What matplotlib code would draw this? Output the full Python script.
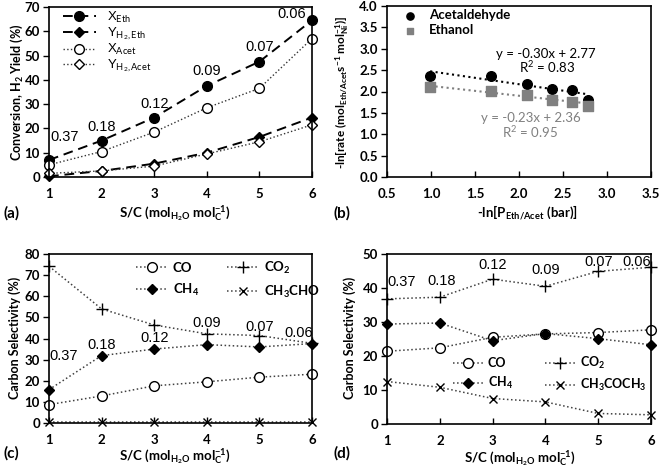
import matplotlib
matplotlib.use("Agg")
import matplotlib.pyplot as plt
import numpy as np

plt.rcParams['font.family'] = ['Lato', 'DejaVu Sans']
plt.rcParams['mathtext.fontset'] = 'custom'
plt.rcParams['mathtext.rm'] = 'Lato'
plt.rcParams['mathtext.bf'] = 'Lato:bold'
plt.rcParams['mathtext.it'] = 'Lato:italic'
plt.rcParams['mathtext.default'] = 'regular'

# ---------------- data ----------------
sc = [1, 2, 3, 4, 5, 6]
x_eth = [7.0, 15.0, 24.5, 37.5, 47.5, 64.5]
y_h2_eth = [0.3, 2.5, 5.5, 10.0, 16.5, 24.5]
x_acet = [5.0, 10.5, 18.5, 28.5, 36.5, 57.0]
y_h2_acet = [1.5, 2.5, 4.5, 9.5, 14.5, 21.5]
ratio_labels = ['0.37', '0.18', '0.12', '0.09', '0.07', '0.06']

lnP = [0.99, 1.68, 2.09, 2.38, 2.60, 2.78]
lnr_acetald = [2.37, 2.37, 2.18, 2.06, 2.03, 1.80]
lnr_ethanol = [2.10, 2.01, 1.91, 1.79, 1.76, 1.67]
fit_acetald = (-0.30, 2.77)
fit_ethanol = (-0.23, 2.36)

c_co = [8.7, 12.8, 17.6, 19.5, 21.7, 23.1]
c_co2 = [74.2, 54.0, 46.4, 42.2, 41.4, 37.7]
c_ch4 = [15.8, 31.9, 35.0, 37.1, 36.0, 37.6]
c_ch3cho = [0.3, 0.3, 0.3, 0.3, 0.3, 0.3]

d_co = [21.4, 22.4, 25.5, 26.5, 26.9, 27.7]
d_co2 = [36.8, 37.3, 42.6, 40.5, 44.9, 46.1]
d_ch4 = [29.4, 29.7, 24.5, 26.6, 25.1, 23.3]
d_ch3coch3 = [12.5, 10.8, 7.5, 6.5, 3.1, 2.7]

# label positions (data coords)
a_lab_pos = [(1.03, 16.5, 'left'), (2.0, 20.5, 'center'), (3.0, 30.0, 'center'),
             (4.0, 43.5, 'center'), (5.0, 53.5, 'center'), (5.62, 67.0, 'center')]
c_lab_pos = [(1.0, 31.9, 'left'), (2.0, 36.9, 'center'), (3.0, 40.0, 'center'),
             (4.0, 47.2, 'center'), (5.0, 45.6, 'center'), (5.75, 42.8, 'center')]
d_lab_pos = [(1.0, 41.7, 'left'), (2.04, 42.2, 'center'), (3.0, 46.7, 'center'),
             (4.0, 45.4, 'center'), (5.0, 47.6, 'center'), (5.73, 47.6, 'center')]

W, H = 661, 471
fig = plt.figure(figsize=(W / 100, H / 100), dpi=100)


def add_ax(l, t, r, b):
    return fig.add_axes([l / W, 1 - b / H, (r - l) / W, (b - t) / H])


def style(ax):
    for s in ax.spines.values():
        s.set_linewidth(1.2)
        s.set_color('black')
    ax.tick_params(axis='y', direction='out', length=4, width=1, labelsize=9.5, pad=2.5)
    ax.tick_params(axis='x', direction='in', length=4, width=1, labelsize=9.5, pad=8)
    for lab in ax.get_xticklabels() + ax.get_yticklabels():
        lab.set_fontweight('bold')


def ordered_legend(ax, **kw):
    h, l = ax.get_legend_handles_labels()
    order = [0, 2, 1, 3]
    return ax.legend([h[i] for i in order], [l[i] for i in order], **kw)


num_font = dict(family='Liberation Sans', fontsize=10.5)
sc_label = r'S/C (mol$_{\mathbf{H_2O}}$ mol$_{\mathbf{C}}^{\mathbf{-1}}$)'
lab_fs = 9

# ---------------- (a) ----------------
ax = add_ax(49, 7, 312, 177)
ax.plot(sc, x_eth, ls=(0, (5, 3)), color='black', lw=1.4, marker='o', ms=7,
        mfc='black', mec='black', label=r'X$_{\mathrm{Eth}}$')
ax.plot(sc, y_h2_eth, ls=(0, (5, 3)), color='black', lw=1.4, marker='D', ms=5.5,
        mfc='black', mec='black', label=r'Y$_{\mathrm{H_2,Eth}}$')
ax.plot(sc, x_acet, ls=':', color='#333333', lw=1.0, marker='o', ms=7,
        mfc='white', mec='black', label=r'X$_{\mathrm{Acet}}$')
ax.plot(sc, y_h2_acet, ls=':', color='#333333', lw=1.0, marker='D', ms=5.5,
        mfc='white', mec='black', label=r'Y$_{\mathrm{H_2,Acet}}$')
ax.set_xlim(1, 6)
ax.set_ylim(0, 70)
ax.set_xticks(sc)
ax.set_yticks(np.arange(0, 71, 10))
for (xp, yp, ha), t in zip(a_lab_pos, ratio_labels):
    ax.text(xp, yp, t, ha=ha, va='center', **num_font)
ax.legend(loc='upper left', bbox_to_anchor=((63 - 49) / 263, 1 - 3 / 170), frameon=False,
          borderpad=0, borderaxespad=0, handlelength=2.5, handletextpad=0.8,
          labelspacing=0.02, prop={'family': 'Liberation Sans', 'size': 9.5})
for l in ax.lines:
    l.set_clip_on(False)
style(ax)
fig.text(17 / W, 1 - 92 / H, r'Conversion, H$_{\mathbf{2}}$ Yield (%)', rotation=90,
         ha='center', va='center', fontsize=lab_fs, fontweight='bold')
fig.text(175 / W, 1 - 213 / H, sc_label, ha='center', va='center', fontsize=9.5, fontweight='bold')
fig.text(4 / W, 1 - 213 / H, '(a)', ha='left', va='center', fontsize=11, fontweight='bold')

# ---------------- (b) ----------------
ax = add_ax(387, 6, 651, 177)
ax.scatter(lnP, lnr_acetald, marker='o', s=48, color='black', zorder=3, label='Acetaldehyde')
ax.scatter(lnP, lnr_ethanol, marker='s', s=42, color='#808080', zorder=3, label='Ethanol')
xf = np.array([lnP[0], lnP[-1]])
ax.plot(xf, fit_acetald[0] * xf + fit_acetald[1], ls=':', color='black', lw=1.5)
ax.plot(xf, fit_ethanol[0] * xf + fit_ethanol[1], ls=':', color='#808080', lw=1.5)
ax.text(2.30, 2.87, 'y = -0.30x + 2.77', ha='center', va='center', fontsize=9.5, color='black')
ax.text(2.32, 2.57, r'R$^2$ = 0.83', ha='center', va='center', fontsize=9.5, color='black')
ax.text(2.14, 1.38, 'y = -0.23x + 2.36', ha='center', va='center', fontsize=9.5, color='#808080')
ax.text(2.13, 1.05, r'R$^2$ = 0.95', ha='center', va='center', fontsize=9.5, color='#808080')
ax.set_xlim(0.5, 3.5)
ax.set_ylim(0, 4.0)
ax.set_xticks(np.arange(0.5, 3.51, 0.5))
ax.set_yticks(np.arange(0, 4.01, 0.5))
ax.xaxis.set_major_formatter(matplotlib.ticker.FormatStrFormatter('%.1f'))
ax.yaxis.set_major_formatter(matplotlib.ticker.FormatStrFormatter('%.1f'))
ax.legend(loc='upper left', bbox_to_anchor=((404 - 387) / 264, 1 - 3 / 171), frameon=False,
          borderpad=0, borderaxespad=0, handlelength=0.9, handletextpad=1.0,
          labelspacing=0.25, scatterpoints=1, markerscale=0.75,
          prop={'weight': 'bold', 'size': 9.5})
style(ax)
fig.text(343 / W, 1 - 92 / H,
         r'-ln[rate (mol$_{\mathbf{Eth/Acet}}$s$^{\mathbf{-1}}$ mol$_{\mathbf{Ni}}^{\mathbf{-1}}$)]',
         rotation=90, ha='center', va='center', fontsize=8.5, fontweight='bold')
fig.text(527 / W, 1 - 213 / H, r'-ln[P$_{\mathbf{Eth/Acet}}$ (bar)]', ha='center', va='center',
         fontsize=9.5, fontweight='bold')
fig.text(333 / W, 1 - 213 / H, '(b)', ha='left', va='center', fontsize=11, fontweight='bold')

# ---------------- (c) ----------------
sel_style = dict(ls=':', color='#404040', lw=1.1)
ax = add_ax(49, 254, 312, 423)
ax.plot(sc, c_co, marker='o', ms=7, mfc='white', mec='black', label='CO', **sel_style)
ax.plot(sc, c_co2, marker='+', ms=8, mec='black', mew=1.0, label=r'CO$_2$', **sel_style)
ax.plot(sc, c_ch4, marker='D', ms=5.5, mfc='black', mec='black', label=r'CH$_4$', **sel_style)
ax.plot(sc, c_ch3cho, marker='x', ms=6, mec='black', mew=1.0, label=r'CH$_3$CHO', **sel_style)
for l in ax.lines:
    l.set_clip_on(False)
ax.set_xlim(1, 6)
ax.set_ylim(0, 80)
ax.set_xticks(sc)
ax.set_yticks(np.arange(0, 81, 10))
for (xp, yp, ha), t in zip(c_lab_pos, ratio_labels):
    ax.text(xp, yp, t, ha=ha, va='center', **num_font)
ordered_legend(ax, loc='upper left', bbox_to_anchor=((136 - 49) / 263, 1 - 6 / 169),
               frameon=False, borderpad=0, borderaxespad=0, ncol=2, handlelength=2.4,
               handletextpad=0.4, columnspacing=2.1, labelspacing=0.6,
               prop={'weight': 'bold', 'size': 9.5})
style(ax)
fig.text(15 / W, 1 - 338 / H, 'Carbon Selectivity (%)', rotation=90,
         ha='center', va='center', fontsize=lab_fs, fontweight='bold')
fig.text(175 / W, 1 - 456 / H, sc_label, ha='center', va='center', fontsize=9.5, fontweight='bold')
fig.text(4 / W, 1 - 453 / H, '(c)', ha='left', va='center', fontsize=11, fontweight='bold')

# ---------------- (d) ----------------
ax = add_ax(387, 254, 651, 424)
ax.plot(sc, d_co, marker='o', ms=7, mfc='white', mec='black', label='CO', **sel_style)
ax.plot(sc, d_co2, marker='+', ms=8, mec='black', mew=1.0, label=r'CO$_2$', **sel_style)
ax.plot(sc, d_ch4, marker='D', ms=5.5, mfc='black', mec='black', label=r'CH$_4$', **sel_style)
ax.plot(sc, d_ch3coch3, marker='x', ms=6, mec='black', mew=1.0, label=r'CH$_3$COCH$_3$', **sel_style)
for l in ax.lines:
    l.set_clip_on(False)
ax.set_xlim(1, 6)
ax.set_ylim(0, 50)
ax.set_xticks(sc)
ax.set_yticks(np.arange(0, 51, 10))
for (xp, yp, ha), t in zip(d_lab_pos, ratio_labels):
    ax.text(xp, yp, t, ha=ha, va='center', **num_font)
ordered_legend(ax, loc='upper left', bbox_to_anchor=((453 - 387) / 264, 1 - (355 - 254) / 170),
               frameon=False, borderpad=0, borderaxespad=0, ncol=2, handlelength=2.4,
               handletextpad=0.4, columnspacing=2.6, labelspacing=0.5,
               prop={'weight': 'bold', 'size': 9})
style(ax)
fig.text(350 / W, 1 - 338 / H, 'Carbon Selectivity (%)', rotation=90,
         ha='center', va='center', fontsize=lab_fs, fontweight='bold')
fig.text(520 / W, 1 - 458 / H, sc_label, ha='center', va='center', fontsize=9.5, fontweight='bold')
fig.text(333 / W, 1 - 453 / H, '(d)', ha='left', va='center', fontsize=11, fontweight='bold')

fig.savefig('out.png', dpi=100)
